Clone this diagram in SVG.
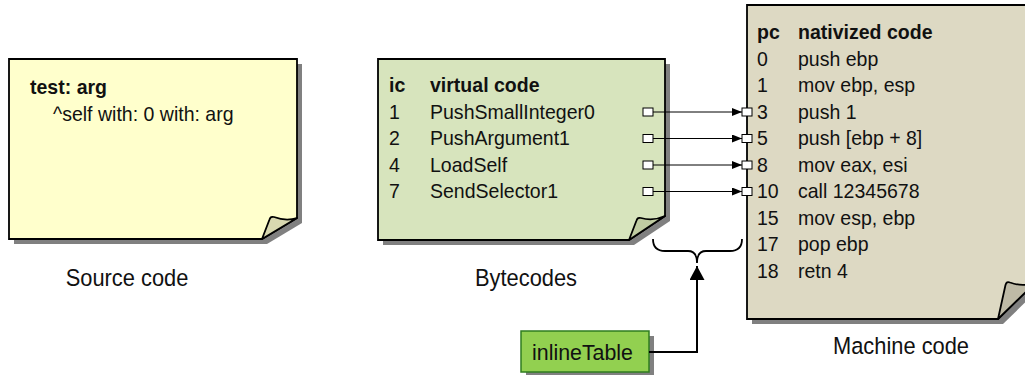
<svg xmlns="http://www.w3.org/2000/svg" width="1025" height="375" viewBox="0 0 1025 375">
  <defs>
    <style>
      text { font-family: "Liberation Sans", Arial, Helvetica, sans-serif; fill: #111; }
      .note-text text { font-size: 21px; }
      .head { font-weight: bold; }
      .caption { font-size: 23.5px; text-anchor: middle; }
      .shadow { fill: #808080; }
      .page { stroke: #000; stroke-width: 1.8; stroke-linejoin: miter; }
      .flap { stroke: #000; stroke-width: 1.8; stroke-linejoin: round; }
      .port { fill: #fff; stroke: #000; stroke-width: 1; }
      .link { fill: none; stroke: #000; stroke-width: 1; }
      .brace { fill: none; stroke: #000; stroke-width: 1.8; }
      .feed { fill: none; stroke: #000; stroke-width: 2; }
    </style>
    <marker id="arrow" markerUnits="userSpaceOnUse" markerWidth="10" markerHeight="8" refX="10" refY="4" orient="auto">
      <path d="M0,0 L10,4 L0,8 Z" fill="#000"/>
    </marker>
    <marker id="arrow-big" markerUnits="userSpaceOnUse" markerWidth="15" markerHeight="15" refX="14" refY="7.5" orient="auto">
      <path d="M0,0 L14,7.5 L0,15 Z" fill="#000"/>
    </marker>
  </defs>

  <!-- Source code note -->
  <g id="source-code">
    <path class="shadow" d="M14,64 H302 V223 L267,244 H14 Z"/>
    <path class="page" fill="#ffffcc" d="M9,59 H297 V218 L262,239 H9 Z"/>
    <path class="flap" fill="#d8d8b0" d="M262,239 L269.5,219.5 Q270.5,216 274,217 Q286,221.5 297,218 Z"/>
    <g class="note-text">
      <text class="head" transform="translate(30 93.5) scale(0.93 1)">test: arg</text>
      <text transform="translate(53 120.5) scale(0.93 1)">^self with: 0 with: arg</text>
    </g>
    <text class="caption" transform="translate(127 285.5) scale(0.93 1)">Source code</text>
  </g>

  <!-- Bytecodes note -->
  <g id="bytecodes">
    <path class="shadow" d="M383,64 H670 V221 L634,245 H383 Z"/>
    <path class="page" fill="#d7e4bd" d="M378,59 H665 V216 L629,240 H378 Z"/>
    <path class="flap" fill="#c0cca2" d="M629,240 L636.5,220.5 Q637.5,217 641,218 Q653,221.5 665,216 Z"/>
    <!-- ic column -->
    <g class="note-text" transform="translate(389 0) scale(0.93 1)">
      <text class="head" y="92.5">ic</text>
      <text y="119">1</text>
      <text y="145.5">2</text>
      <text y="172">4</text>
      <text y="198.5">7</text>
    </g>
    <!-- instruction column -->
    <g class="note-text" transform="translate(430 0) scale(0.93 1)">
      <text class="head" y="92.5">virtual code</text>
      <text y="119">PushSmallInteger0</text>
      <text y="145.5">PushArgument1</text>
      <text y="172">LoadSelf</text>
      <text y="198.5">SendSelector1</text>
    </g>
    <text class="caption" transform="translate(526 285.5) scale(0.93 1)">Bytecodes</text>
  </g>

  <!-- Machine code note -->
  <g id="machine-code">
    <path class="shadow" d="M752,10 H1040 V288 L1003,324 H752 Z"/>
    <path class="page" fill="#ddd9c3" d="M747,5 H1035 V283 L998,319 H747 Z"/>
    <path class="flap" fill="#bebaa6" d="M998,319 L1005.5,285 Q1006.5,281 1010,282.5 Q1022,287 1035,283 Z"/>
    <!-- pc column -->
    <g class="note-text" transform="translate(757 0) scale(0.93 1)">
      <text class="head" y="39.5">pc</text>
      <text y="66">0</text>
      <text y="92.5">1</text>
      <text y="119">3</text>
      <text y="145.5">5</text>
      <text y="172">8</text>
      <text y="198.5">10</text>
      <text y="225">15</text>
      <text y="251.5">17</text>
      <text y="278">18</text>
    </g>
    <!-- native instruction column -->
    <g class="note-text" transform="translate(798 0) scale(0.93 1)">
      <text class="head" y="39.5">nativized code</text>
      <text y="66">push ebp</text>
      <text y="92.5">mov ebp, esp</text>
      <text y="119">push 1</text>
      <text y="145.5">push [ebp + 8]</text>
      <text y="172">mov eax, esi</text>
      <text y="198.5">call 12345678</text>
      <text y="225">mov esp, ebp</text>
      <text y="251.5">pop ebp</text>
      <text y="278">retn 4</text>
    </g>
    <text class="caption" transform="translate(901 354) scale(0.93 1)">Machine code</text>
  </g>

  <!-- inlineTable box -->
  <g id="inline-table">
    <rect x="526" y="336" width="128" height="41" fill="#808080"/>
    <rect x="521" y="331" width="128" height="41" fill="#92d050" stroke="#2f7d1f" stroke-width="1.5"/>
    <text transform="translate(532 360) scale(0.93 1)" style="font-size:23px">inlineTable</text>
  </g>

  <!-- Connectors: bytecode offsets mapped to native code offsets -->
  <g id="connectors">
    <line class="link" x1="653" y1="112" x2="742" y2="112" marker-end="url(#arrow)"/>
    <line class="link" x1="653" y1="138.5" x2="742" y2="138.5" marker-end="url(#arrow)"/>
    <line class="link" x1="653" y1="165" x2="742" y2="165" marker-end="url(#arrow)"/>
    <line class="link" x1="653" y1="191.5" x2="742" y2="191.5" marker-end="url(#arrow)"/>
    <rect class="port" x="643" y="108" width="10" height="8"/>
    <rect class="port" x="643" y="134.5" width="10" height="8"/>
    <rect class="port" x="643" y="161" width="10" height="8"/>
    <rect class="port" x="643" y="187.5" width="10" height="8"/>
    <rect class="port" x="742" y="108" width="10" height="8"/>
    <rect class="port" x="742" y="134.5" width="10" height="8"/>
    <rect class="port" x="742" y="161" width="10" height="8"/>
    <rect class="port" x="742" y="187.5" width="10" height="8"/>
    <path class="brace" d="M653,239 Q653,251 665,251 L688,251 Q697,251 697,263 Q697,251 706,251 L730,251 Q742,251 742,239"/>
    <path class="feed" d="M649,352 H697 V266" marker-end="url(#arrow-big)"/>
  </g>
</svg>
